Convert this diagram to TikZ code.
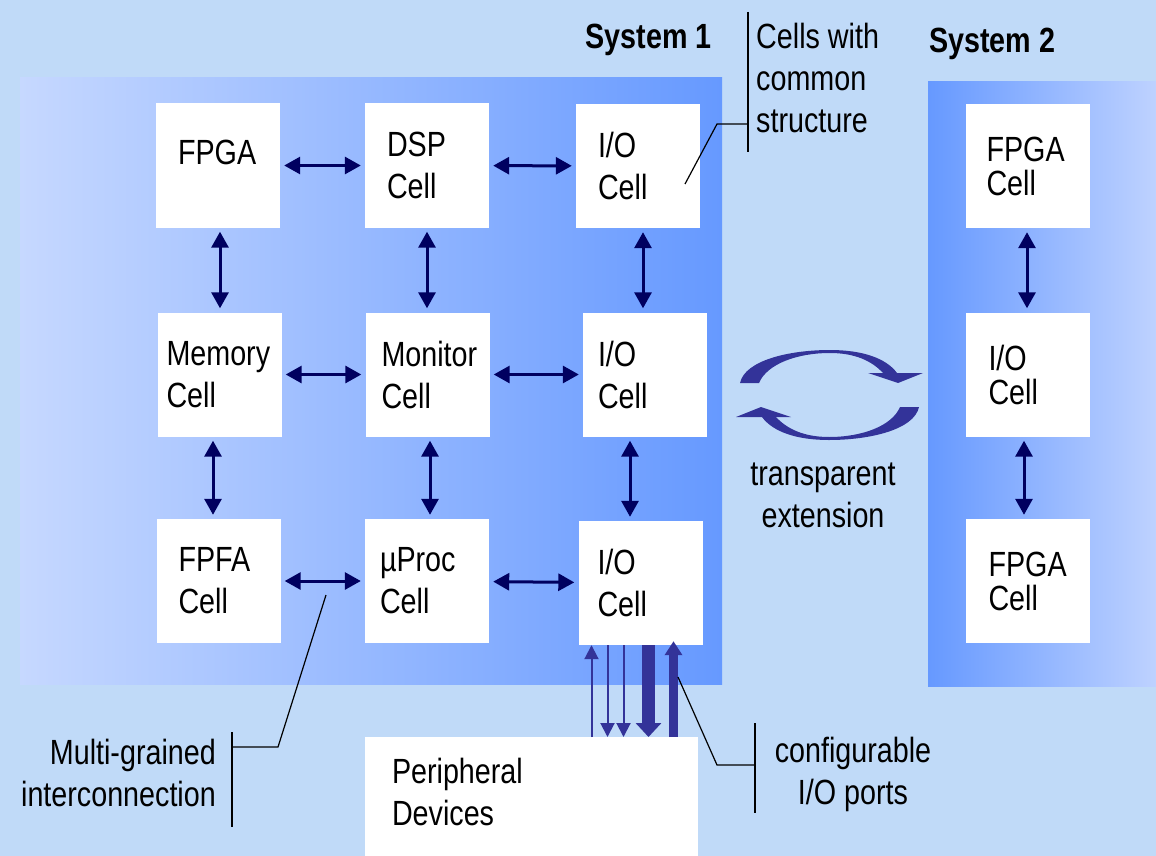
\documentclass[tikz,border=0pt]{standalone}
\usepackage{fontspec}
\setmainfont{Liberation Sans}[FakeStretch=0.82]
\usepackage{tikz}
\usetikzlibrary{arrows.meta,calc}
\definecolor{bgblue}{RGB}{192,218,248}
\definecolor{sysblue}{RGB}{102,153,255}
\definecolor{syslight}{RGB}{198,216,255}
\definecolor{systwolight}{RGB}{190,210,255}
\definecolor{navy}{RGB}{0,0,96}
\definecolor{portblue}{RGB}{51,51,153}
\tikzset{
    every node/.style={font=\fontsize{35pt}{42pt}\selectfont}
}
\tikzset{
    cell/.style={fill=white, inner ysep=0pt, inner xsep=#1, text width=124pt-2*#1,
    	minimum height=124pt, align=left},
    cell/.default=22pt,
    cellB/.style={cell=#1, font=\fontsize{35pt}{34pt}\selectfont},
    cellB/.default=21pt,
    peri/.style={fill=white, anchor=north, inner xsep=27pt, inner ysep=21pt,
    	text width=279pt, text depth=72pt, align=left},
    title/.style={font=\fontsize{35pt}{42pt}\selectfont\bfseries, inner sep=0pt}
}
\tikzset{
    biarrow/.style={navy, line width=3pt,
    	{Triangle[length=16pt,width=17pt]}-{Triangle[length=16pt,width=17pt]},
    	shorten <=4pt, shorten >=4pt},
    portthin/.style={portblue, line width=2pt, -{Triangle[length=14pt,width=14pt]}},
    portdownB/.style={portblue, line width=13pt, -{Triangle[length=14pt,width=25pt]}},
    portupB/.style={portblue, line width=9pt, -{Triangle[length=14pt,width=17pt]},
    	shorten >=-4pt},
    callout/.style={black, line width=1.2pt}
}

\begin{document}
\begin{tikzpicture}[x=1pt, y=-1pt]
	\useasboundingbox (0,0) rectangle (1156,856);
	\fill[bgblue] (0,0) rectangle (1156,856);
	\shade[left color=syslight, right color=sysblue] (20,78) rectangle (722,684);
	\shade[left color=sysblue, right color=systwolight] (928,82) rectangle (1156,686);

	\node (sys1) [title, anchor=base east] at (712,49) {System 1};
	\node (sys2) [title, anchor=base west] at (929,53) {System 2};

	% system 1
	\node (fpga) [cell, text depth=26pt] at (218,165.5) {FPGA};
	\node (dsp) [cell] at (427,165.5) {DSP\\Cell};
	\node (io1) [cell] at (638,166) {I/O\\Cell};
	\node (mem) [cell=9pt] at (219.5,374.5) {Memory\\Cell};
	\node (mon) [cell=16pt] at (427.5,374.5) {Monitor\\Cell};
	\node (io2) [cell=15pt] at (645,374.5) {I/O\\Cell};
	\node (fpfa) [cell] at (218.5,581) {FPFA\\Cell};
	\node (mup) [cell=15pt] at (427,581) {µProc\\Cell};
	\node (io3) [cell=19pt] at (640.5,583) {I/O\\Cell};

	% system 2
	\node (sfpga) [cellB] at (1027.5,166) {FPGA\\Cell};
	\node (sio) [cellB=23pt] at (1027.5,374.5) {I/O\\Cell};
	\node (sfpgb) [cellB=23pt] at (1027.5,581) {FPGA\\Cell};

	\node (peri) [peri] at (531.5,737) {Peripheral\\Devices};

	\draw (fpga) edge [biarrow] (dsp); \draw (dsp) edge [biarrow] (io1);
	\draw (mem) edge [biarrow] (mon); \draw (mon) edge [biarrow] (io2);
	\draw (fpfa) edge [biarrow] (mup); \draw (mup) edge [biarrow] (io3);

	\draw ([xshift=2pt]fpga.south) edge [biarrow] ([xshift=0.5pt]mem.north);
	\draw (dsp.south) edge [biarrow] ([xshift=-0.5pt]mon.north);
	\draw ([xshift=5pt]io1.south) edge [biarrow] ([xshift=-2pt]io2.north);
	\draw ([xshift=-6.5pt]mem.south) edge [biarrow] ([xshift=-5.5pt]fpfa.north);
	\draw ([xshift=2.5pt]mon.south) edge [biarrow] ([xshift=3pt]mup.north);
	\draw ([xshift=-15pt]io2.south) edge [biarrow] ([xshift=-10.5pt]io3.north);
	\draw ([xshift=-0.5pt]sfpga.south) edge [biarrow] ([xshift=-0.5pt]sio.north);
	\draw ([xshift=-3.5pt]sio.south) edge [biarrow] ([xshift=-3.5pt]sfpgb.north);

	% configurable ports
	\coordinate (p1) at ($(io3.south)+(-49,0)$);
	\coordinate (p2) at ($(io3.south)+(-33,0)$);
	\coordinate (p3) at ($(io3.south)+(-17,0)$);
	\coordinate (p4) at ($(io3.south)+(8,0)$);
	\coordinate (p5) at ($(io3.south)+(33,0)$);
	\draw (p1 |- peri.north) edge [portthin] (p1);
	\draw (p2) edge [portthin] (p2 |- peri.north);
	\draw (p3) edge [portthin] (p3 |- peri.north);
	\draw (p4) edge [portdownB] (p4 |- peri.north);
	\draw (p5 |- peri.north) edge [portupB] (p5);

	% transparent extension
	\foreach \r in {0,180} {
		\begin{scope}[rotate around={\r:(829.5,395)}]
			\fill[portblue] (740,383) .. controls (745,360) and (790,350) .. (830,350)
				.. controls (862,350) and (886,358) .. (897,373) -- (883,373)
				.. controls (872,361) and (855,353) .. (830,353)
				.. controls (797,353) and (767,364) .. (759,383) -- cycle;
			\fill[portblue] (868,373) -- (923,373) -- (898,383) -- cycle;
		\end{scope}
	}

	\node (cells) [anchor=north west, align=left, inner sep=0pt] at (756,23) {Cells with\\common\\structure};
	\node (trans) [align=center, inner sep=0pt] at (823,495) {transparent\\extension};
	\node (multi) [anchor=east, align=right, inner sep=0pt] at (216,773) {Multi-grained\\interconnection};
	\node (conf) [align=center, inner sep=0pt] at (853,774) {configurable\\I/O ports};

	\coordinate (cc) at (685,184);
	\coordinate (cm) at (326,595);
	\coordinate (cp) at (678,677);
	\draw [callout] (cc) -- (717,124) -- (748,124); \draw [callout] (748,12) -- (748,152);
	\draw [callout] (cm) -- (278,747) -- (232,747); \draw [callout] (232,732) -- (232,827);
	\draw [callout] (cp) -- (717,765) -- (755,765); \draw [callout] (755,723) -- (755,813);
\end{tikzpicture}
\end{document}
